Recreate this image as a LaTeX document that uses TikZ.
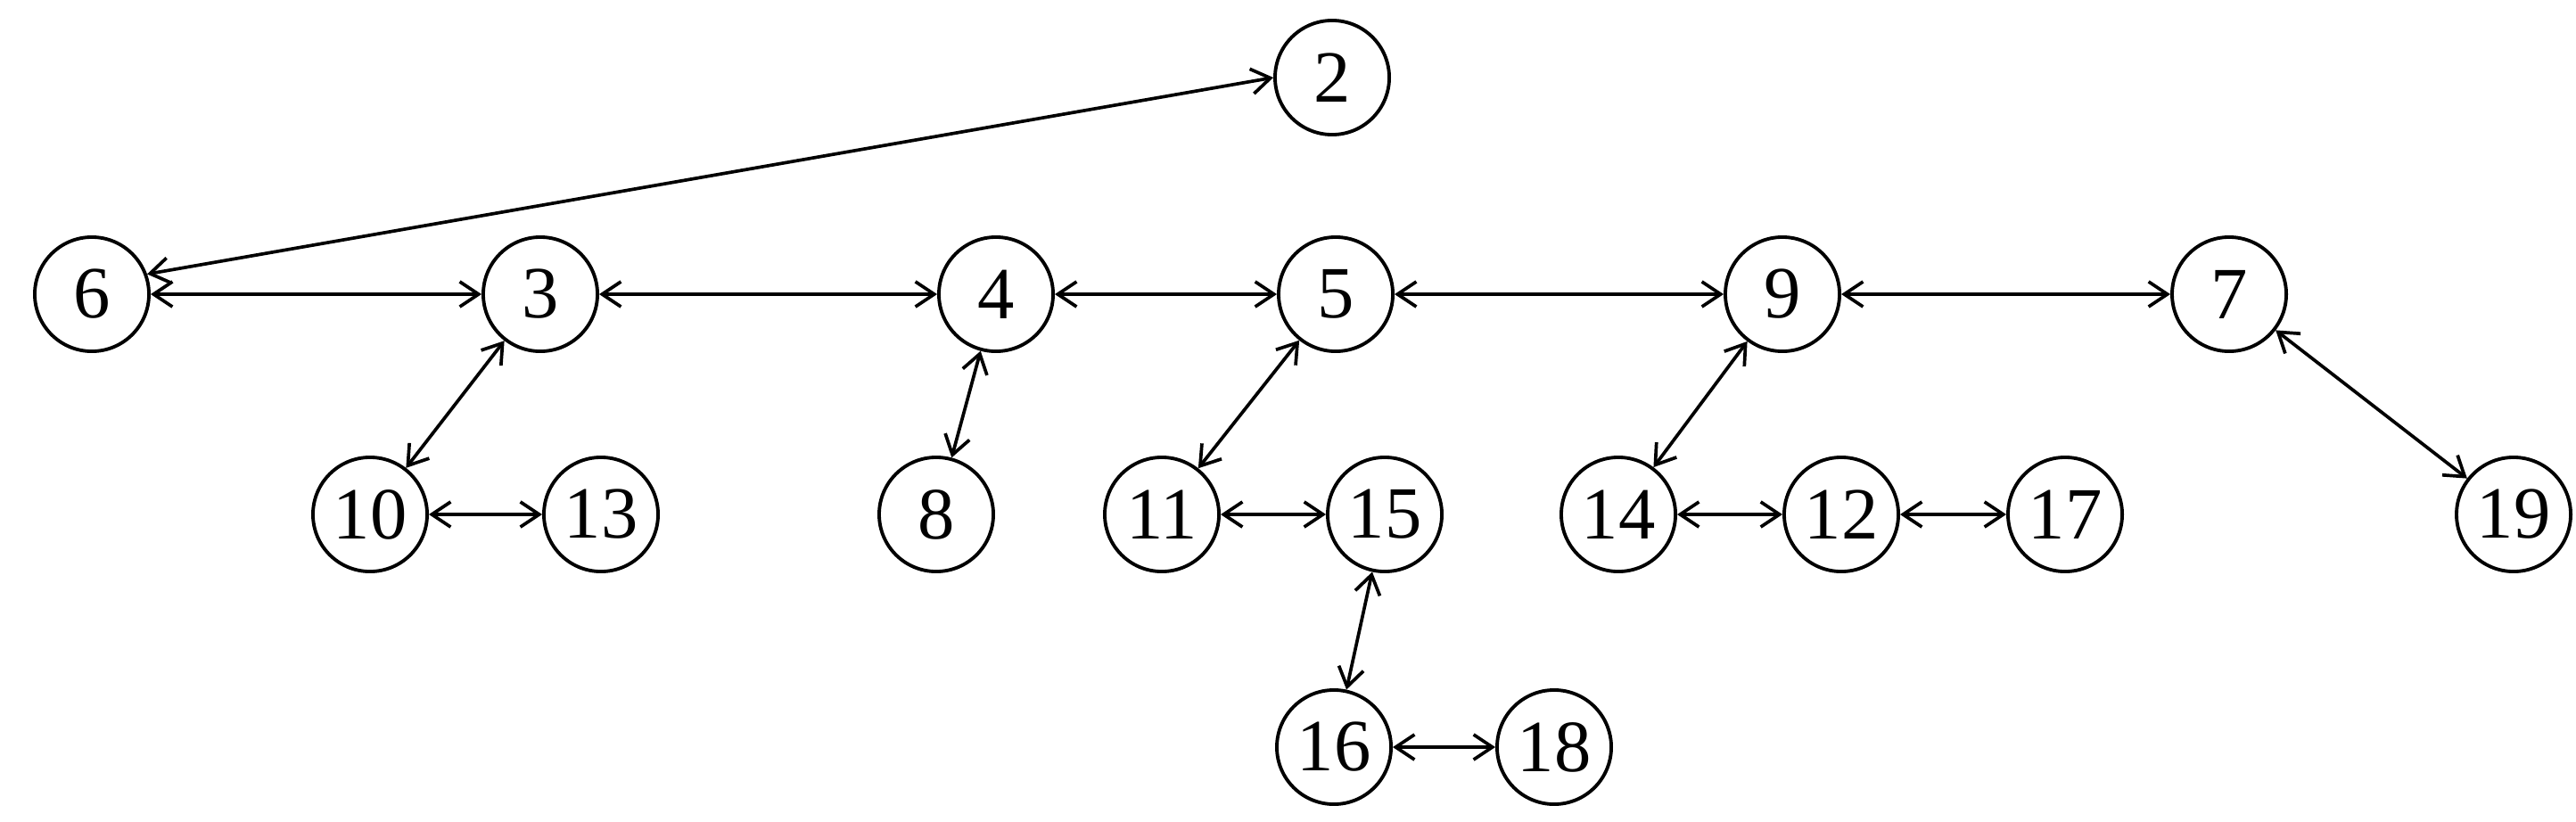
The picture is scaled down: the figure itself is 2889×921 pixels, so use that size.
\documentclass[tikz,border=0pt]{standalone}
\usepackage{fontspec}
\setmainfont{Liberation Serif}
\usetikzlibrary{arrows.meta}
\begin{document}
\begin{tikzpicture}[x=0.01cm,y=-0.01cm,
  vert/.style={circle,draw,line width=1.1pt,minimum size=1.28cm,inner sep=0pt,
    font=\fontsize{23.5}{23.5}\selectfont},
  link/.style={line width=1.05pt,{Straight Barb[length=6pt,width=8pt]}-{Straight Barb[length=6pt,width=8pt]}}]
\useasboundingbox (0,0) rectangle (2889,921);
\node[vert] (n2) at (1494,87) {2};
\node[vert] (n6) at (103,330) {6};
\node[vert] (n3) at (606,330) {3};
\node[vert] (n4) at (1117,330) {4};
\node[vert] (n5) at (1498,330) {5};
\node[vert] (n9) at (1999,330) {9};
\node[vert] (n7) at (2500,330) {7};
\node[vert] (n10) at (415,577) {10};
\node[vert] (n13) at (674,577) {13};
\node[vert] (n8) at (1050,577) {8};
\node[vert] (n11) at (1303,577) {11};
\node[vert] (n15) at (1553,577) {15};
\node[vert] (n14) at (1815,577) {14};
\node[vert] (n12) at (2065,577) {12};
\node[vert] (n17) at (2316,577) {17};
\node[vert] (n19) at (2819,577) {19};
\node[vert] (n16) at (1496,838) {16};
\node[vert] (n18) at (1743,838) {18};
\draw[link] (n6.20) -- (n2.west);
\draw[link] (n6) -- (n3);
\draw[link] (n3) -- (n4);
\draw[link] (n4) -- (n5);
\draw[link] (n5) -- (n9);
\draw[link] (n9) -- (n7);
\draw[link] (n3) -- (n10);
\draw[link] (n10) -- (n13);
\draw[link] (n4) -- (n8);
\draw[link] (n5) -- (n11);
\draw[link] (n11) -- (n15);
\draw[link] (n15) -- (n16);
\draw[link] (n16) -- (n18);
\draw[link] (n9) -- (n14);
\draw[link] (n14) -- (n12);
\draw[link] (n12) -- (n17);
\draw[link] (n7) -- (n19);
\end{tikzpicture}
\end{document}
